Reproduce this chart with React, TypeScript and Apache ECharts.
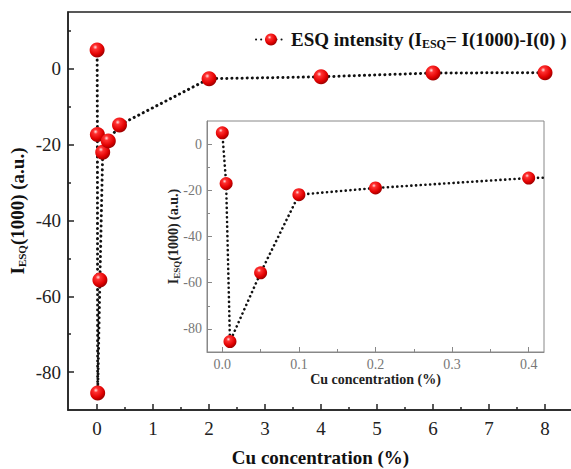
import React, { useEffect, useRef } from "react";
import * as echarts from "echarts";

const cuConc = [0, 0.005, 0.01, 0.05, 0.1, 0.2, 0.4, 2, 4, 6, 8];
const esqValues = [5, -17.3, -85.5, -55.7, -22, -19, -14.8, -2.6, -2.1, -1.1, -1.0];
const insetConc = [0, 0.005, 0.01, 0.05, 0.1, 0.2, 0.4, 2];
const insetValues = [4.9, -17.1, -85.5, -55.7, -21.9, -19, -14.7, -2.6];

const mainXTicks = [0, 1, 2, 3, 4, 5, 6, 7, 8];
const mainXMinor = [0.5, 1.5, 2.5, 3.5, 4.5, 5.5, 6.5, 7.5];
const mainYTicks = [-80, -60, -40, -20, 0];
const mainYMinor = [-70, -50, -30, -10, 10];
const insetXTicks = [0, 0.1, 0.2, 0.3, 0.4];
const insetXMinor = [0.05, 0.15, 0.25, 0.35];
const insetYTicks = [-80, -60, -40, -20, 0];
const insetYMinor = [-70, -50, -30, -10];

const FONT = "'Liberation Serif', 'DejaVu Serif', 'Times New Roman', serif";

const ball = {
  type: "radial",
  x: 0.38,
  y: 0.32,
  r: 0.7,
  colorStops: [
    { offset: 0, color: "#ffe0e0" },
    { offset: 0.22, color: "#ff3030" },
    { offset: 0.7, color: "#e00000" },
    { offset: 1, color: "#990000" },
  ],
};

export default function App() {
  const ref = useRef<HTMLDivElement>(null);
  useEffect(() => {
    if (!ref.current) return;
    const chart = echarts.init(ref.current, undefined, { renderer: "svg" });
    const mainData = cuConc.map((x, i) => [x, esqValues[i]]);
    const insetData = insetConc.map((x, i) => [x, insetValues[i]]);
    const black = "#222";
    const gray = "#888";
    const lineStyle = { color: "#111", width: 3, type: [0.1, 5], cap: "round" };
    const option: any = {
      animation: false,
      backgroundColor: "#fff",
      textStyle: { fontFamily: FONT },
      legend: {
        data: ["ESQ"],
        left: 250,
        top: 25,
        itemWidth: 30,
        itemHeight: 15,
        formatter: () => "{b|ESQ intensity (I}{s|ESQ}{b|= I(1000)-I(0) )}",
        textStyle: {
          fontFamily: FONT,
          rich: {
            b: { fontFamily: FONT, fontWeight: "bold", fontSize: 19, color: "#111" },
            s: { fontFamily: FONT, fontWeight: "bold", fontSize: 12, color: "#111", padding: [9, 0, 0, 0] },
          },
        },
      },
      grid: [
        { left: 68, right: -2, top: 12, bottom: 59, show: true, borderColor: black, borderWidth: 1.5, containLabel: false, outerBoundsMode: "none" },
        { left: 207, right: 27, top: 121, bottom: 117, show: true, backgroundColor: "#fff", borderColor: gray, borderWidth: 1, z: 3, containLabel: false, outerBoundsMode: "none" },
      ],
      xAxis: [
        {
          gridIndex: 0, type: "value", min: -0.52, max: 8.5,
          axisLine: { show: true, onZero: false, lineStyle: { color: black, width: 1.5 } },
          axisTick: { show: true, inside: true, length: 6, customValues: mainXTicks, lineStyle: { color: black, width: 1.5 } },
          axisLabel: { customValues: mainXTicks, fontFamily: FONT, fontSize: 19, color: "#222", margin: 9 },
          splitLine: { show: false },
          name: "Cu concentration (%)", nameLocation: "middle", nameGap: 38, nameMoveOverlap: false,
          nameTextStyle: { fontFamily: FONT, fontWeight: "bold", fontSize: 19, color: "#111" },
        },
        {
          gridIndex: 0, type: "value", min: -0.52, max: 8.5, position: "bottom",
          axisLine: { show: false, onZero: false },
          axisTick: { show: true, inside: true, length: 3, customValues: mainXMinor, lineStyle: { color: black, width: 1.5 } },
          axisLabel: { show: false }, splitLine: { show: false },
        },
        {
          gridIndex: 1, type: "value", min: -0.02, max: 0.42,
          axisLine: { show: true, onZero: false, lineStyle: { color: gray, width: 1 } },
          axisTick: { show: true, inside: true, length: 5, customValues: insetXTicks, lineStyle: { color: gray } },
          axisLabel: { customValues: insetXTicks, formatter: (v: number) => v.toFixed(1), fontFamily: FONT, fontSize: 14, color: "#777", margin: 5 },
          splitLine: { show: false },
          name: "Cu concentration (%)", nameLocation: "middle", nameGap: 20, nameMoveOverlap: false,
          nameTextStyle: { fontFamily: FONT, fontWeight: "bold", fontSize: 14, color: "#222" },
          z: 4,
        },
        {
          gridIndex: 1, type: "value", min: -0.02, max: 0.42, position: "bottom",
          axisLine: { show: false, onZero: false },
          axisTick: { show: true, inside: true, length: 3, customValues: insetXMinor, lineStyle: { color: gray } },
          axisLabel: { show: false }, splitLine: { show: false }, z: 4,
        },
      ],
      yAxis: [
        {
          gridIndex: 0, type: "value", min: -90, max: 15,
          axisLine: { show: true, onZero: false, lineStyle: { color: black, width: 1.5 } },
          axisTick: { show: true, inside: true, length: 6, customValues: mainYTicks, lineStyle: { color: black, width: 1.5 } },
          axisLabel: { customValues: mainYTicks, fontFamily: FONT, fontSize: 19, color: "#222", margin: 7 },
          splitLine: { show: false },
          name: "{b|I}{s|ESQ}{b|(1000) (a.u.)}", nameLocation: "middle", nameGap: 41, nameMoveOverlap: false,
          nameTextStyle: {
            fontFamily: FONT,
            rich: {
              b: { fontFamily: FONT, fontWeight: "bold", fontSize: 19, color: "#111" },
              s: { fontFamily: FONT, fontWeight: "bold", fontSize: 11, color: "#111", padding: [9, 0, 0, 0] },
            },
          },
        },
        {
          gridIndex: 0, type: "value", min: -90, max: 15, position: "left",
          axisLine: { show: false, onZero: false },
          axisTick: { show: true, inside: true, length: 3, customValues: mainYMinor, lineStyle: { color: black, width: 1.5 } },
          axisLabel: { show: false }, splitLine: { show: false },
        },
        {
          gridIndex: 1, type: "value", min: -90, max: 10,
          axisLine: { show: true, onZero: false, lineStyle: { color: gray, width: 1 } },
          axisTick: { show: true, inside: true, length: 5, customValues: insetYTicks, lineStyle: { color: gray } },
          axisLabel: { customValues: insetYTicks, fontFamily: FONT, fontSize: 14, color: "#777", margin: 5 },
          splitLine: { show: false },
          name: "{b|I}{s|ESQ}{b|(1000) (a.u.)}", nameLocation: "middle", nameGap: 26, nameMoveOverlap: false,
          nameTextStyle: {
            fontFamily: FONT,
            rich: {
              b: { fontFamily: FONT, fontWeight: "bold", fontSize: 14, color: "#222" },
              s: { fontFamily: FONT, fontWeight: "bold", fontSize: 9, color: "#222", padding: [6, 0, 0, 0] },
            },
          },
          z: 4,
        },
        {
          gridIndex: 1, type: "value", min: -90, max: 10, position: "left",
          axisLine: { show: false, onZero: false },
          axisTick: { show: true, inside: true, length: 3, customValues: insetYMinor, lineStyle: { color: gray } },
          axisLabel: { show: false }, splitLine: { show: false }, z: 4,
        },
      ],
      series: [
        {
          name: "ESQ", type: "line", xAxisIndex: 0, yAxisIndex: 0,
          data: mainData, symbol: "circle", symbolSize: 15,
          itemStyle: { color: ball, borderWidth: 0 },
          lineStyle,
          z: 2,
        },
        {
          name: "inset", type: "line", xAxisIndex: 2, yAxisIndex: 2,
          data: insetData, symbol: "circle", symbolSize: 13,
          itemStyle: { color: ball, borderWidth: 0 },
          lineStyle: { color: "#111", width: 2.6, type: [0.1, 4.6], cap: "round" },
          clip: true,
          z: 5,
        },
      ],
    };
    chart.setOption(option);
    return () => chart.dispose();
  }, []);
  return <div ref={ref} style={{ width: 571, height: 469, position: "absolute", left: 0, top: 0 }} />;
}
